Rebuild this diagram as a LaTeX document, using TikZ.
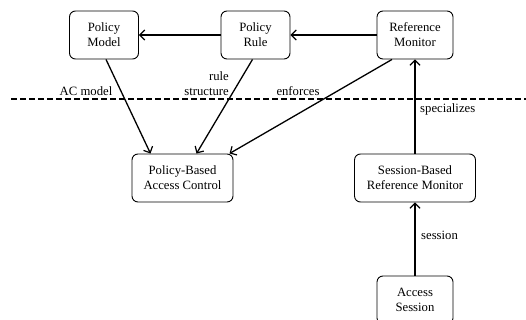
\documentclass[tikz,border=0pt]{standalone}
\usepackage{fontspec}
\setmainfont{Liberation Serif}
\usepackage{tikz}
\usetikzlibrary{positioning,arrows.meta}

\begin{document}
\begin{tikzpicture}[
  x=1pt, y=1pt,
  font=\fontsize{12.7}{15}\selectfont,
  box/.style={rectangle, rounded corners=6pt, draw, line width=0.9pt, align=center,
              minimum height=48pt, inner sep=2pt},
  arrow/.style={-{Straight Barb[length=5pt,width=10pt,line width=1.2pt]}, line width=1.3pt},
  lbl/.style={inner sep=0pt, align=right}
]
  \useasboundingbox (0,0) rectangle (526,-320);

  % Boxes
  \node[box, minimum width=69pt] (model) at (104,-35) {Policy\\Model};
  \node[box, minimum width=69pt] (rule) at (255.5,-35) {Policy\\Rule};
  \node[box, minimum width=76pt] (monitor) at (415,-35) {Reference\\Monitor};
  \node[box, minimum width=101pt] (pbac) at (182.5,-178) {Policy-Based\\Access Control};
  \node[box, minimum width=121pt] (sbrm) at (415,-178) {Session-Based\\Reference Monitor};
  \node[box, minimum width=76pt] (session) at (415,-300) {Access\\Session};

  % Dashed line
  \coordinate (dl) at (11,-99);
  \coordinate (dr) at (526,-99);
  \draw[dashed, dash pattern=on 6pt off 3pt, line width=1.1pt] (dl) -- (dr);

  % Edges
  \draw[arrow] (rule) -- (model);
  \draw[arrow] (monitor) -- (rule);
  \draw[arrow] ([xshift=2pt]model.south) -- ([xshift=-32pt]pbac.north);
  \draw[arrow] ([xshift=-3pt]rule.south) -- ([xshift=14pt]pbac.north);
  \draw[arrow] ([xshift=-23pt]monitor.south) -- ([xshift=47pt]pbac.north);
  \draw[arrow] (sbrm) -- (monitor);
  \draw[arrow] (session) -- (sbrm);

  % Labels
  \node[lbl] (acmodel) at (86,-91) {AC model};
  \node[lbl, anchor=east] (rulestruct) at (229,-84) {rule\\structure};
  \node[lbl] (enforces) at (298,-91) {enforces};
  \node[lbl, anchor=west] (special) at (420,-109) {specializes};
  \node[lbl, anchor=west] (sessionlbl) at (421,-235) {session};

\end{tikzpicture}
\end{document}
